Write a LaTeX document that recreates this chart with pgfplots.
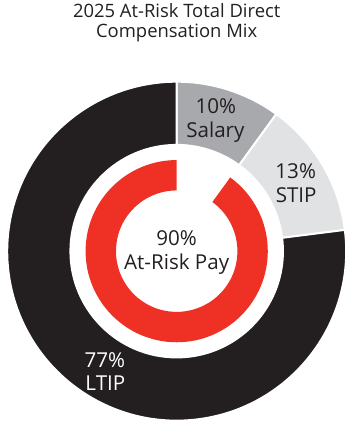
\documentclass[border=0pt]{standalone}
\usepackage{fontspec}
\setmainfont{Open Sans}
\usepackage{pgfplots}
\usepackage{pgfplotstable}
\pgfplotsset{compat=1.18}
\definecolor{salary}{HTML}{A7A9AC}
\definecolor{stip}{HTML}{E1E2E3}
\definecolor{ltip}{HTML}{231F20}
\definecolor{riskred}{HTML}{EE3124}
\definecolor{txt}{HTML}{231F20}

\pgfplotstableread{
name value
Salary 10
STIP 13
LTIP 77
}\outertable
\pgfplotstableread{
name value
AtRisk 90
}\innertable

\pgfplotstablegetelem{0}{value}\of\outertable \let\vA\pgfplotsretval
\pgfplotstablegetelem{1}{value}\of\outertable \let\vB\pgfplotsretval
\pgfplotstablegetelem{2}{value}\of\outertable \let\vC\pgfplotsretval
\pgfplotstablegetelem{0}{value}\of\innertable \let\vR\pgfplotsretval
\pgfmathsetmacro\aA{90}
\pgfmathsetmacro\aB{\aA-3.6*\vA}
\pgfmathsetmacro\aC{\aB-3.6*\vB}
\pgfmathsetmacro\aD{\aC-3.6*\vC}
\pgfmathsetmacro\rEnd{90+3.6*\vR}

% #1 colour, #2 start angle, #3 end angle, #4 outer radius, #5 inner radius, #6 extra style
\newcommand\annsector[6]{%
  \fill[#1,#6] (axis cs:0,0) ++(#2:#4bp) arc[start angle=#2,end angle=#3,radius=#4bp]
    -- ++(#3+180:#4bp-#5bp) arc[start angle=#3,end angle=#2,radius=#5bp] -- cycle;}

\begin{document}
\begin{tikzpicture}
\begin{axis}[width=352bp,height=432bp,scale only axis,hide axis,clip=false,
  xmin=-176,xmax=176,ymin=-176.5,ymax=255.5]
\path (axis cs:-176,-176.5) rectangle (axis cs:176,255.5);
\annsector{salary}{\aA}{\aB}{173}{108.5}{draw=white,line width=2bp}
\annsector{stip}{\aB}{\aC}{173}{108.5}{draw=white,line width=2bp}
\annsector{ltip}{\aC}{\aD}{173}{108.5}{draw=white,line width=2bp}
\annsector{riskred}{90}{\rEnd}{93}{62}{}
% title
\node[anchor=base,text=txt,font=\fontsize{18.8bp}{22bp}\selectfont] at (axis cs:0,238.8) {2025 At-Risk Total Direct};
\node[anchor=base,text=txt,font=\fontsize{18.8bp}{22bp}\selectfont] at (axis cs:0,217.8) {Compensation Mix};
% labels
\node[anchor=base,text=txt,font=\fontsize{21bp}{25bp}\selectfont] at (axis cs:40,140.5) {10\%};
\node[anchor=base,text=txt,font=\fontsize{21bp}{25bp}\selectfont] at (axis cs:39.5,116.5) {Salary};
\node[anchor=base,text=txt,font=\fontsize{21bp}{25bp}\selectfont] at (axis cs:121.5,73.8) {13\%};
\node[anchor=base,text=txt,font=\fontsize{21bp}{25bp}\selectfont] at (axis cs:122,49.5) {STIP};
\node[anchor=base,text=txt,font=\fontsize{21bp}{25bp}\selectfont] at (axis cs:0,5.5) {90\%};
\node[anchor=base,text=txt,font=\fontsize{21bp}{25bp}\selectfont] at (axis cs:0,-18.8) {At-Risk Pay};
\node[anchor=base west,inner xsep=0pt,text=white,font=\fontsize{21bp}{25bp}\selectfont] at (axis cs:-94.3,-118.5) {77\%};
\node[anchor=base west,inner xsep=0pt,text=white,font=\fontsize{21bp}{25bp}\selectfont] at (axis cs:-93.3,-142.2) {LTIP};
\end{axis}
\end{tikzpicture}
\end{document}
